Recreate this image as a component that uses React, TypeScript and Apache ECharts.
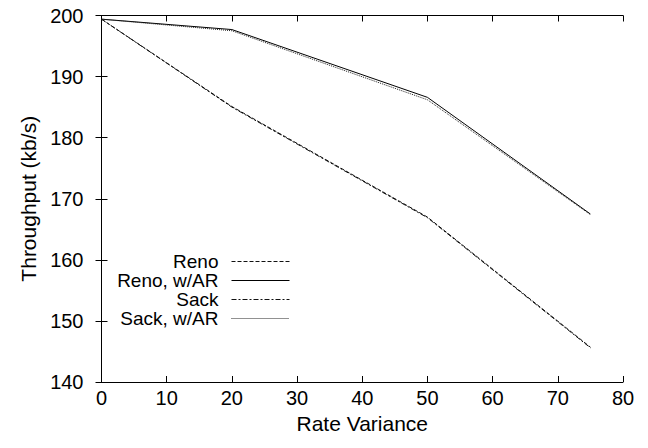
import React, { useEffect, useRef } from "react";
import * as echarts from "echarts";

const rateVariance = [0, 20, 50, 75];
const reno = [199.4, 185.1, 167.0, 145.7];
const renoAR = [199.4, 197.7, 186.6, 167.5];
const sack = [199.4, 185.0, 166.9, 145.6];
const sackAR = [199.4, 197.5, 186.2, 167.4];
const seriesNames = ["Reno", "Reno, w/AR", "Sack", "Sack, w/AR"];

const FONT = "'Liberation Sans', Arial, Helvetica, sans-serif";

export default function App() {
  const ref = useRef<HTMLDivElement>(null);
  useEffect(() => {
    if (!ref.current) return;
    const chart = echarts.init(ref.current, undefined, { renderer: "svg" });
    const pair = (ys: number[]) => rateVariance.map((x, i) => [x, ys[i]]);
    const axisCommon = {
      type: "value" as const,
      axisLine: { show: true, lineStyle: { color: "#000", width: 1 } },
      axisTick: { show: true, inside: true, length: 6, lineStyle: { color: "#000" } },
      splitLine: { show: false },
    };
    const lineSeries = (name: string, data: number[], type: any, color: string, width = 1) => ({
      name,
      type: "line",
      data: pair(data),
      symbol: "none",
      showSymbol: false,
      xAxisIndex: 0,
      yAxisIndex: 0,
      lineStyle: { color, width, type },
      itemStyle: { color },
    });
    chart.setOption({
      animation: false,
      backgroundColor: "#fff",
      textStyle: { fontFamily: FONT },
      grid: { left: 101.5, right: 25, top: 15.5, bottom: 66, containLabel: false },
      xAxis: [
        {
          ...axisCommon,
          position: "bottom",
          min: 0,
          max: 80,
          interval: 10,
          name: "Rate Variance",
          nameLocation: "middle",
          nameGap: 25,
          nameTextStyle: { fontSize: 21, color: "#000", fontFamily: FONT },
          axisLabel: { fontSize: 20, color: "#000", margin: 6, fontFamily: FONT },
        },
        {
          ...axisCommon,
          position: "top",
          min: 0,
          max: 80,
          interval: 10,
          axisLabel: { show: false },
        },
      ],
      yAxis: [
        {
          ...axisCommon,
          position: "left",
          min: 140,
          max: 200,
          interval: 10,
          name: "Throughput (kb/s)",
          nameLocation: "middle",
          nameGap: 62,
          nameTextStyle: { fontSize: 21, color: "#000", fontFamily: FONT },
          axisLabel: { fontSize: 20, color: "#000", margin: 18, fontFamily: FONT },
        },
        {
          ...axisCommon,
          position: "right",
          min: 140,
          max: 200,
          interval: 10,
          axisLabel: { show: false },
        },
      ],
      legend: {
        data: seriesNames,
        orient: "vertical",
        align: "right",
        right: 358,
        top: 252,
        padding: 0,
        itemWidth: 58,
        itemHeight: 14,
        itemGap: 0,
        itemStyle: { opacity: 0 },
        lineStyle: { width: 1 },
        textStyle: {
          fontSize: 19,
          lineHeight: 14,
          color: "#000",
          fontFamily: FONT,
          padding: [0, 8, 0, 0],
        },
      },
      series: [
        lineSeries(seriesNames[0], reno, [4, 2], "#111"),
        lineSeries(seriesNames[1], renoAR, "solid", "#000"),
        lineSeries(seriesNames[2], sack, [5, 2, 2, 2], "#111"),
        lineSeries(seriesNames[3], sackAR, [1, 1], "#222"),
      ],
    });
    return () => chart.dispose();
  }, []);
  return <div ref={ref} style={{ width: 648, height: 448, position: "absolute", left: 0, top: 0 }} />;
}
